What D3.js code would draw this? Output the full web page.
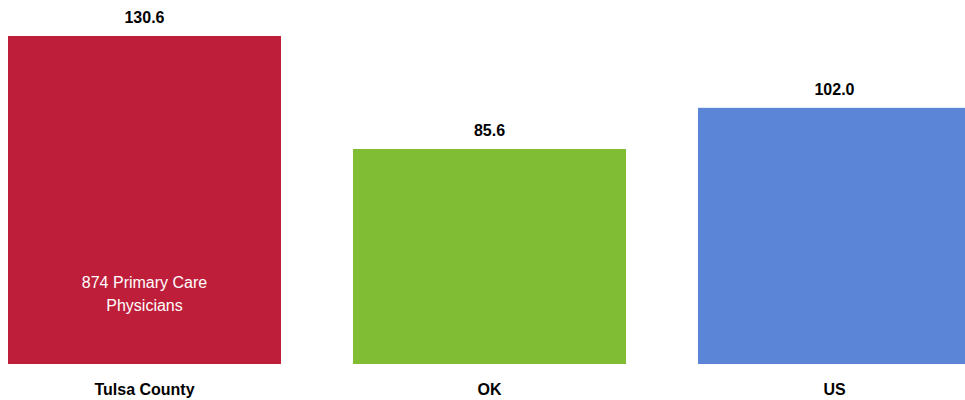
<!DOCTYPE html>
<html><head><meta charset="utf-8">
<script src="https://cdn.jsdelivr.net/npm/d3@7"></script>
<style>
html,body{margin:0;padding:0;background:#fff;overflow:hidden}
text{font-family:"Liberation Sans Narrow","Arial Narrow","Liberation Sans",Arial,sans-serif}
</style></head>
<body><svg id="c" width="965" height="400"></svg>
<script>
const categories = ["Tulsa County", "OK", "US"];
const values = [130.6, 85.6, 102.0];
const valueLabels = ["130.6", "85.6", "102.0"];
const colors = ["#BE1E3A", "#80BD33", "#5B85D6"];
const innerNote = ["874 Primary Care", "Physicians"];

const svg = d3.select("#c");
const x = d3.scaleBand().domain(categories).range([8, 971]).paddingInner(72/345).paddingOuter(0);
const y = d3.scaleLinear().domain([0, 130.6]).range([364, 36]);

svg.selectAll("rect.bar").data(categories).join("rect")
  .attr("class","bar")
  .attr("x", d => x(d)).attr("width", x.bandwidth())
  .attr("y", (d,i) => y(values[i])).attr("height", (d,i) => y(0) - y(values[i]))
  .attr("fill", (d,i) => colors[i]);

svg.selectAll("text.val").data(categories).join("text")
  .attr("class","val")
  .attr("x", d => x(d) + x.bandwidth()/2)
  .attr("y", (d,i) => y(values[i]) - 13)
  .attr("text-anchor","middle").attr("font-weight","bold").attr("font-size",16).attr("fill","#000")
  .text((d,i) => valueLabels[i]);

svg.selectAll("text.cat").data(categories).join("text")
  .attr("class","cat")
  .attr("x", d => x(d) + x.bandwidth()/2)
  .attr("y", 395)
  .attr("text-anchor","middle").attr("font-weight","bold").attr("font-size",16).attr("fill","#000")
  .text(d => d);

const t = svg.append("text")
  .attr("x", x(categories[0]) + x.bandwidth()/2)
  .attr("y", 288)
  .attr("text-anchor","middle").attr("font-size",16).attr("fill","#fff");
innerNote.forEach((s,i) => t.append("tspan").attr("x", x(categories[0]) + x.bandwidth()/2).attr("dy", i ? 23 : 0).text(s));
</script></body></html>
